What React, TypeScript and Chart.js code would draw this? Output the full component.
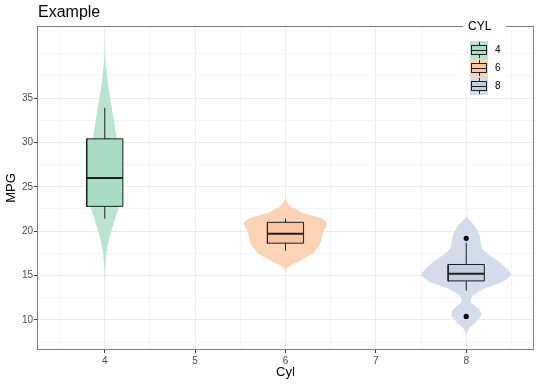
import React, { useEffect, useRef } from 'react';
import { Chart, registerables } from 'chart.js';

Chart.register(...registerables);

// ---------- data ----------
const categories = [4, 6, 8];
const legendLabels = ['4', '6', '8'];
const xTickValues = [4, 5, 6, 7, 8];
const xMinorGrid = [3.5, 4.5, 5.5, 6.5, 7.5, 8.5];
const yTickValues = [10, 15, 20, 25, 30, 35];
const yMinorGrid = [7.5, 12.5, 17.5, 22.5, 27.5, 32.5, 37.5, 40];
const xRange = [3.25, 8.75];
const yRange = [6.62, 43.11];

// box statistics per cylinder group
const boxQ1 = [22.8, 18.65, 14.4];
const boxMedian = [26.0, 19.7, 15.2];
const boxQ3 = [30.4, 21.0, 16.25];
const whiskerLow = [21.4, 17.8, 13.3];
const whiskerHigh = [33.9, 21.4, 18.7];
const outlierCyl = [8, 8];
const outlierMpg = [19.2, 10.4];

// violin outlines: mpg and half width (x units)
const violin4Mpg = [13.9, 15.6, 17.5, 19.3, 21.3, 22.7, 24.5, 26.5, 28.5, 30.6, 32.5, 34.8, 37.0, 39.3, 41.4];
const violin4Half = [0, 0.005, 0.018, 0.052, 0.111, 0.155, 0.172, 0.168, 0.155, 0.129, 0.1, 0.063, 0.03, 0.008, 0];
const violin6Mpg = [15.3, 15.82, 16.19, 16.76, 17.51, 18.64, 19.76, 20.89, 21.45, 22.01, 22.76, 23.32, 23.9];
const violin6Half = [0, 0.015, 0.066, 0.177, 0.304, 0.387, 0.415, 0.459, 0.398, 0.21, 0.066, 0.015, 0];
const violin8Mpg = [8.3, 9.07, 9.81, 10.56, 11.2, 11.7, 12.0, 12.4, 12.82, 13.57, 14.31, 15.1, 15.6, 16.57, 17.32, 18.07, 18.82, 19.57, 20.33, 21.04, 21.6];
const violin8Half = [0, 0.033, 0.111, 0.166, 0.144, 0.089, 0.05, 0.055, 0.077, 0.21, 0.406, 0.498, 0.465, 0.365, 0.255, 0.175, 0.16, 0.148, 0.11, 0.055, 0];

const violinMpg = [violin4Mpg, violin6Mpg, violin8Mpg];
const violinHalf = [violin4Half, violin6Half, violin8Half];

// ---------- styles ----------
const boxHalfWidth = 0.2;
const violinColors = ['#b9e4d1', '#fdd3b6', '#d4dbea'];
const boxColors = ['#a8dcc5', '#f8c6a4', '#c5cee1'];
const outline = '#1e1e1e';
const FONT = "'Liberation Sans', Arial, Helvetica, sans-serif";
const gridMajor = '#ebebeb';
const gridMinor = '#f4f4f4';

function buildDatasets(): any[] {
  const ds: any[] = [];
  categories.forEach((c, g) => {
    const m = violinMpg[g];
    const w = violinHalf[g];
    const right = m.map((y, i) => ({ x: c + w[i], y }));
    const left = m.map((y, i) => ({ x: c - w[i], y })).reverse();
    ds.push({
      label: 'violin ' + c,
      data: [...right, ...left],
      showLine: true,
      fill: 'shape',
      backgroundColor: violinColors[g],
      borderColor: 'rgba(0,0,0,0)',
      borderWidth: 0,
      pointRadius: 0,
      pointHoverRadius: 0,
      tension: 0.2,
      order: 10,
    });
    ds.push({
      label: 'box ' + c,
      data: [
        { x: c - boxHalfWidth, y: boxQ1[g] },
        { x: c + boxHalfWidth, y: boxQ1[g] },
        { x: c + boxHalfWidth, y: boxQ3[g] },
        { x: c - boxHalfWidth, y: boxQ3[g] },
        { x: c - boxHalfWidth, y: boxQ1[g] },
      ],
      showLine: true,
      fill: 'shape',
      backgroundColor: boxColors[g],
      borderColor: outline,
      borderWidth: 1,
      borderJoinStyle: 'miter',
      borderCapStyle: 'square',
      pointRadius: 0,
      pointHoverRadius: 0,
      tension: 0,
      order: 8,
    });
    ds.push({
      label: 'upper whisker ' + c,
      data: [{ x: c, y: boxQ3[g] }, { x: c, y: whiskerHigh[g] }],
      showLine: true,
      fill: false,
      borderColor: outline,
      borderWidth: 1,
      pointRadius: 0,
      pointHoverRadius: 0,
      order: 7,
    });
    ds.push({
      label: 'lower whisker ' + c,
      data: [{ x: c, y: whiskerLow[g] }, { x: c, y: boxQ1[g] }],
      showLine: true,
      fill: false,
      borderColor: outline,
      borderWidth: 1,
      pointRadius: 0,
      pointHoverRadius: 0,
      order: 7,
    });
    ds.push({
      label: 'median ' + c,
      data: [{ x: c - boxHalfWidth, y: boxMedian[g] }, { x: c + boxHalfWidth, y: boxMedian[g] }],
      showLine: true,
      fill: false,
      borderColor: outline,
      borderWidth: 2,
      borderCapStyle: 'butt',
      pointRadius: 0,
      pointHoverRadius: 0,
      order: 6,
    });
  });
  ds.push({
    label: 'outliers',
    data: outlierCyl.map((x, i) => ({ x, y: outlierMpg[i] })),
    showLine: false,
    pointRadius: 2.6,
    pointHoverRadius: 2.6,
    pointBackgroundColor: '#000',
    pointBorderWidth: 0,
    borderColor: '#000',
    order: 1,
  });
  return ds;
}

const decorPlugin = {
  id: 'decor',
  afterDatasetsDraw(chart: any) {
    const { ctx, chartArea: a } = chart;
    ctx.save();
    // panel border
    ctx.strokeStyle = '#7a7a7a';
    ctx.lineWidth = 1;
    ctx.strokeRect(a.left + 0.5, a.top + 0.5, a.right - a.left - 1, a.bottom - a.top - 1);

    // title
    ctx.fillStyle = '#000';
    ctx.font = `16px ${FONT}`;
    ctx.textAlign = 'left';
    ctx.textBaseline = 'middle';
    ctx.fillText('Example', 38, 13);

    // legend
    const lx = 463;
    ctx.fillStyle = '#fff';
    ctx.fillRect(lx, 17, 43, 80);
    ctx.fillStyle = '#000';
    ctx.font = `12px ${FONT}`;
    ctx.fillText('CYL', 468, 27);
    ctx.font = `10px ${FONT}`;
    categories.forEach((c, g) => {
      const cy = 50 + 18 * g;
      const kx = 470;
      const ks = 18;
      ctx.fillStyle = violinColors[g];
      ctx.fillRect(kx, cy - ks / 2, ks, ks);
      const bx = kx + 1;
      const bw = ks - 2;
      ctx.fillStyle = boxColors[g];
      ctx.fillRect(bx, cy - 5, bw, 10);
      ctx.strokeStyle = outline;
      ctx.lineWidth = 1;
      ctx.strokeRect(bx + 0.5, cy - 4.5, bw - 1, 9);
      ctx.beginPath();
      ctx.moveTo(bx, cy + 0.5);
      ctx.lineTo(bx + bw, cy + 0.5);
      const mx = kx + ks / 2 + 0.5;
      ctx.moveTo(mx, cy - 8);
      ctx.lineTo(mx, cy - 4.5);
      ctx.moveTo(mx, cy + 4.5);
      ctx.lineTo(mx, cy + 8);
      ctx.stroke();
      ctx.fillStyle = '#000';
      ctx.fillText(legendLabels[g], 495, cy);
    });
    ctx.restore();
  },
};

function isIn(list: number[], v: any) {
  return list.some((t) => Math.abs(t - v) < 1e-9);
}

export default function App() {
  const ref = useRef<HTMLCanvasElement>(null);
  useEffect(() => {
    const canvas = ref.current;
    if (!canvas) return;
    Chart.defaults.font.family = FONT;
    const chart = new Chart(canvas, {
      type: 'scatter',
      data: { datasets: buildDatasets() },
      plugins: [decorPlugin],
      options: {
        responsive: false,
        animation: false,
        devicePixelRatio: 1,
        events: [],
        layout: { padding: { top: 26, right: 6, left: 0, bottom: 0 } },
        plugins: {
          legend: { display: false },
          tooltip: { enabled: false },
          title: { display: false },
        },
        scales: {
          x: {
            type: 'linear',
            min: xRange[0],
            max: xRange[1],
            afterBuildTicks: (s: any) => {
              s.ticks = [...xMinorGrid, ...xTickValues].sort((a, b) => a - b).map((v) => ({ value: v }));
            },
            afterFit: (s: any) => {
              s.height = 36;
            },
            ticks: {
              autoSkip: false,
              maxRotation: 0,
              padding: 2,
              color: '#4d4d4d',
              font: { size: 10 },
              callback: (v: any) => (isIn(xTickValues, v) ? String(v) : ''),
            },
            grid: {
              color: (c: any) => (isIn(xTickValues, c.tick?.value) ? gridMajor : gridMinor),
              tickColor: (c: any) => (isIn(xTickValues, c.tick?.value) ? '#333' : 'rgba(0,0,0,0)'),
              lineWidth: 1,
              tickWidth: 1,
              tickLength: 3,
            },
            border: { display: false },
            title: {
              display: true,
              text: 'Cyl',
              color: '#000',
              font: { size: 13 },
              padding: { top: 0, bottom: 6 },
            },
          },
          y: {
            type: 'linear',
            min: yRange[0],
            max: yRange[1],
            afterBuildTicks: (s: any) => {
              s.ticks = [...yMinorGrid, ...yTickValues].sort((a, b) => a - b).map((v) => ({ value: v }));
            },
            afterFit: (s: any) => {
              s.width = 37;
            },
            ticks: {
              autoSkip: false,
              padding: 1,
              color: '#4d4d4d',
              font: { size: 10 },
              callback: (v: any) => (isIn(yTickValues, v) ? String(v) : ''),
            },
            grid: {
              color: (c: any) => (isIn(yTickValues, c.tick?.value) ? gridMajor : gridMinor),
              tickColor: (c: any) => (isIn(yTickValues, c.tick?.value) ? '#333' : 'rgba(0,0,0,0)'),
              lineWidth: 1,
              tickWidth: 1,
              tickLength: 3,
            },
            border: { display: false },
            title: {
              display: true,
              text: 'MPG',
              color: '#000',
              font: { size: 13 },
              padding: { top: 4, bottom: 0 },
            },
          },
        },
      } as any,
    } as any);
    return () => chart.destroy();
  }, []);
  return (
    <div style={{ position: 'fixed', left: 0, top: 0, width: 540, height: 386, background: '#fff' }}>
      <canvas ref={ref} width={540} height={386} style={{ display: 'block' }} />
    </div>
  );
}
